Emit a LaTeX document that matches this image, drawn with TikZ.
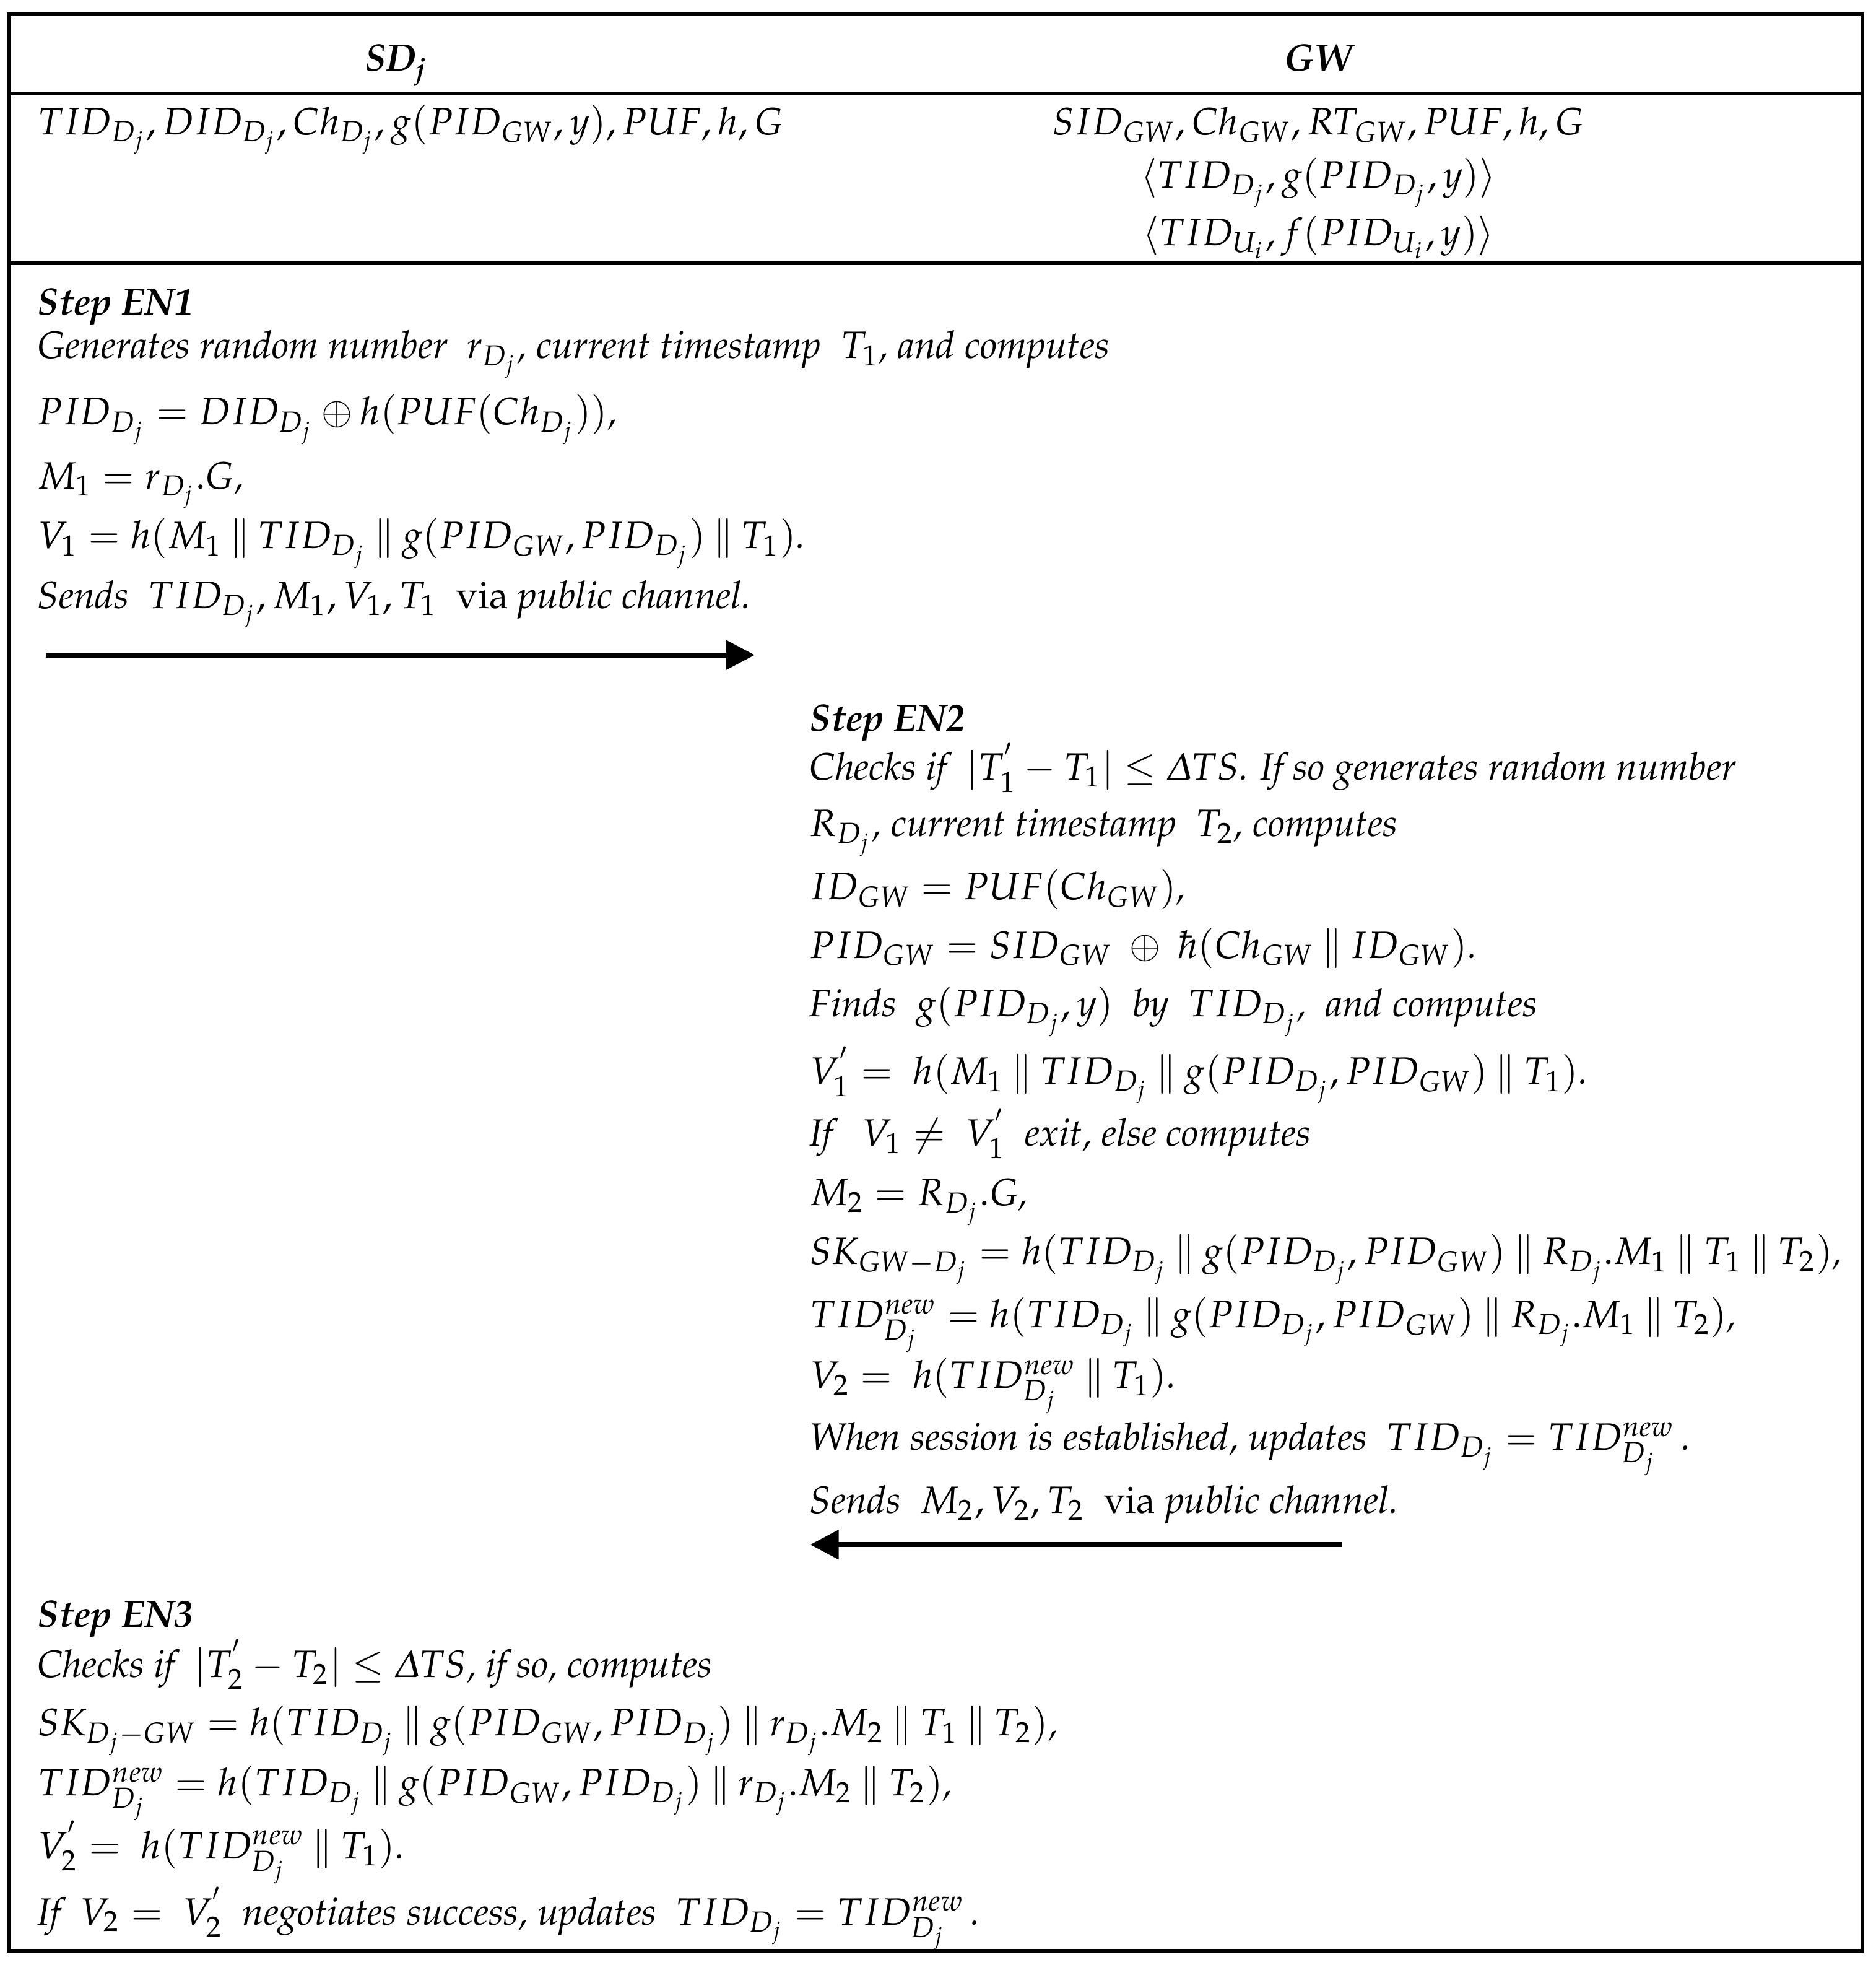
\documentclass[tikz,border=0pt]{standalone}
\usepackage{amsmath,amssymb}
\usepackage{mathpazo}
\usepackage[T1]{fontenc}
\usepackage{tikz}
\usetikzlibrary{positioning,arrows.meta}
\newcommand{\conc}{\mathbin{\|}}
\newcommand{\Dj}{{D_j}}

\begin{document}
\begin{tikzpicture}[
		rule/.style={line width=1pt},
		txt/.style={anchor=base west,inner sep=0pt,yshift=-0.03cm,font=\itshape},
		hd/.style={anchor=base,inner sep=0pt,yshift=-0.03cm,font=\itshape},
		msg/.style={line width=1.3pt,-{Triangle[length=7.5pt,width=7.5pt]}}
	]
		\useasboundingbox (0,0) rectangle (17.27,-18.09);
		
		% table frame
		\draw[rule] (0.08,-0.13) rectangle (17.15,-17.96);
		\draw[rule] (0.08,-0.86) -- (17.15,-0.86);
		\draw[rule] (0.08,-2.42) -- (17.15,-2.42);
		
		% header
		\node[hd] (sd) at (3.65,-0.62) {\textbf{SD\textsubscript{j}}};
		\node[hd] (gw) at (12.14,-0.62) {\textbf{GW}};
		
		% stored values
		\node[txt] (sdkeys) at (0.34,-1.21) {$TID_\Dj, DID_\Dj, Ch_\Dj, g(PID_{GW}, y), PUF, h, G$};
		\node[hd] (gwkeys) at (12.14,-1.21) {$SID_{GW}, Ch_{GW}, RT_{GW}, PUF, h, G$};
		\node[hd] (gwtab1) at (12.14,-1.70) {$\langle TID_\Dj, g(PID_\Dj, y)\rangle$};
		\node[hd] (gwtab2) at (12.14,-2.23) {$\langle TID_{U_i}, f(PID_{U_i}, y)\rangle$};
		
		% step EN1
		\foreach \yy/\txt [count=\i] in {
			2.87/{\textbf{Step EN1}},
			3.27/{Generates random number \ $r_\Dj$, current timestamp \ $T_1$, and computes},
			3.88/{$PID_\Dj = DID_\Dj \oplus h(PUF(Ch_\Dj))$,},
			4.47/{$M_1 = r_\Dj.G$,},
			5.02/{$V_1 = h(M_1 \conc TID_\Dj \conc g(PID_{GW}, PID_\Dj) \conc T_1)$.},
			5.57/{Sends \ $TID_\Dj, M_1, V_1, T_1$ \ \textup{via} public channel.}}
		\node[txt] (a\i) at (0.34,-\yy) {\txt};
		
		\coordinate (m1s) at (0.42,-6.03);
		\coordinate (m1e) at (6.95,-6.03);
		\draw[msg] (m1s) -- (m1e);
		
		% step EN2
		\foreach \yy/\txt [count=\i] in {
			6.70/{\textbf{Step EN2}},
			7.15/{Checks if \ $|T_1^{'} - T_1| \leq \varDelta TS$. If so generates random number},
			7.67/{$R_\Dj$, current timestamp \ $T_2$, computes},
			8.25/{$ID_{GW} = PUF(Ch_{GW})$,},
			8.79/{$PID_{GW} = SID_{GW} \ \oplus\ \hbar(Ch_{GW} \conc ID_{GW})$.},
			9.33/{Finds \ $g(PID_\Dj, y)$ \ by \ $TID_\Dj$, \ and computes},
			9.95/{$V_1^{'} = \ h(M_1 \conc TID_\Dj \conc g(PID_\Dj, PID_{GW}) \conc T_1)$.},
			10.52/{If \ \ $V_1 \neq\ V_1^{'}$ \ exit, else computes},
			11.07/{$M_2 = R_\Dj.G$,},
			11.61/{$SK_{GW-D_j} = h(TID_\Dj \conc g(PID_\Dj, PID_{GW}) \conc R_\Dj.M_1 \conc T_1 \conc T_2)$,},
			12.19/{$TID_\Dj^{new} = h(TID_\Dj \conc g(PID_\Dj, PID_{GW}) \conc R_\Dj.M_1 \conc T_2)$,},
			12.75/{$V_2 = \ h(TID_\Dj^{new} \conc T_1)$.},
			13.32/{When session is established, updates \ $TID_\Dj = TID_\Dj^{new}$\,.},
			13.90/{Sends \ $M_2, V_2, T_2$ \ \textup{via} public channel.}}
		\node[txt] (b\i) at (7.45,-\yy) {\txt};
		
		\coordinate (m2s) at (12.36,-14.22);
		\coordinate (m2e) at (7.46,-14.22);
		\draw[msg] (m2s) -- (m2e);
		
		% step EN3
		\foreach \yy/\txt [count=\i] in {
			14.95/{\textbf{Step EN3}},
			15.41/{Checks if \ $|T_2^{'} - T_2| \leq \varDelta TS$, if so, computes},
			15.95/{$SK_{D_j-GW} = h(TID_\Dj \conc g(PID_{GW}, PID_\Dj) \conc r_\Dj.M_2 \conc T_1 \conc T_2)$,},
			16.50/{$TID_\Dj^{new} = h(TID_\Dj \conc g(PID_{GW}, PID_\Dj) \conc r_\Dj.M_2 \conc T_2)$,},
			17.08/{$V_2^{'} = \ h(TID_\Dj^{new} \conc T_1)$.},
			17.69/{If \ $V_2 = \ V_2^{'}$ \ negotiates success, updates \ $TID_\Dj = TID_\Dj^{new}$\,.}}
		\node[txt] (c\i) at (0.34,-\yy) {\txt};
		
	\end{tikzpicture}
\end{document}
